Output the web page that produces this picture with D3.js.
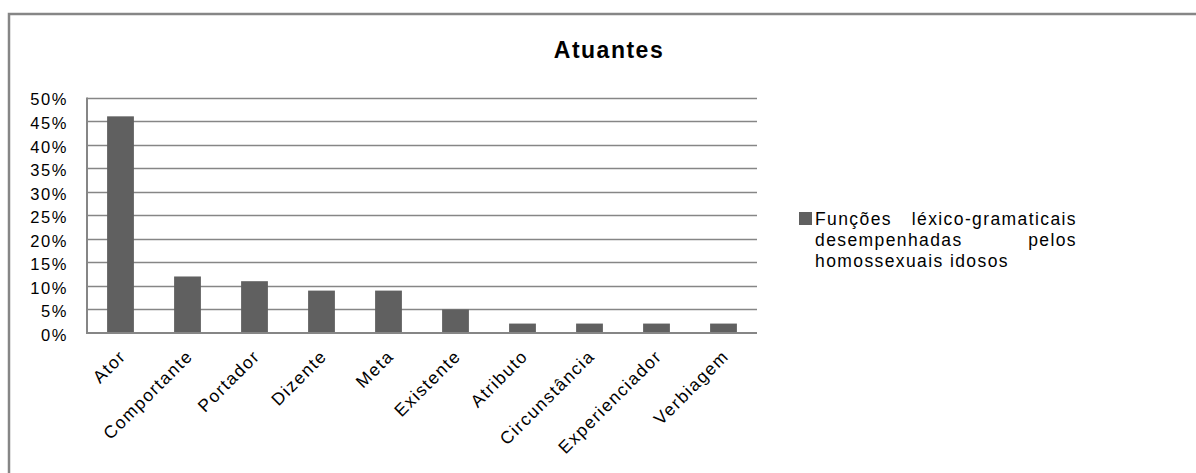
<!DOCTYPE html>
<html>
<head>
<meta charset="utf-8">
<script src="https://cdn.jsdelivr.net/npm/d3@7"></script>
<style>
  body { margin: 0; background: #fff; }
  svg { display: block; font-family: "Liberation Sans", Arial, sans-serif; }
</style>
</head>
<body>
<svg id="chart"></svg>
<script>
const width = 1196;
const height = 473;

// chart data
const categories = ["Ator", "Comportante", "Portador", "Dizente", "Meta", "Existente",
  "Atributo", "Circunstância", "Experienciador", "Verbiagem"];
const values = [0.46, 0.12, 0.11, 0.09, 0.09, 0.05, 0.02, 0.02, 0.02, 0.02];
const yTicks = [0, 0.05, 0.10, 0.15, 0.20, 0.25, 0.30, 0.35, 0.40, 0.45, 0.50];
const seriesName = "Funções léxico-gramaticais desempenhadas pelos homossexuais idosos";

const plot = { left: 87, top: 97.5, right: 757, bottom: 333 };

const svg = d3.select("#chart")
  .attr("width", width)
  .attr("height", height);

// outer chart frame (only top + left visible in the crop)
svg.append("path")
  .attr("d", `M9,${height} V14 H${width}`)
  .attr("fill", "none")
  .attr("stroke", "#868686")
  .attr("stroke-width", 2.5);

svg.append("text")
  .attr("x", 609)
  .attr("y", 58)
  .attr("text-anchor", "middle")
  .attr("font-weight", "bold")
  .attr("font-size", 23)
  .attr("letter-spacing", 1.5)
  .text("Atuantes");

const x = d3.scaleBand()
  .domain(categories)
  .range([plot.left, plot.right])
  .paddingInner(0.6)
  .paddingOuter(0.3);

const y = d3.scaleLinear()
  .domain([0, 0.5])
  .range([plot.bottom, plot.top]);

// gridlines
svg.append("g")
  .selectAll("line")
  .data(yTicks.filter(d => d > 0))
  .enter()
  .append("line")
  .attr("x1", plot.left)
  .attr("x2", plot.right)
  .attr("y1", d => Math.round(y(d)) + 0.5)
  .attr("y2", d => Math.round(y(d)) + 0.5)
  .attr("stroke", "#868686")
  .attr("stroke-width", 1.5);

// y axis labels
const yAxis = d3.axisLeft(y)
  .tickValues(yTicks)
  .tickFormat(d3.format(".0%"))
  .tickSize(0)
  .tickPadding(19);

svg.append("g")
  .attr("transform", `translate(${plot.left},0)`)
  .call(yAxis)
  .call(g => g.select(".domain").remove())
  .selectAll("text")
  .attr("font-size", 16.5)
  .attr("letter-spacing", 1.6)
  .attr("fill", "#000")
  .attr("font-family", "Liberation Sans, Arial, sans-serif")
  .attr("dy", "0.45em");

// bars
svg.append("g")
  .selectAll("rect")
  .data(values)
  .enter()
  .append("rect")
  .attr("x", (d, i) => x(categories[i]))
  .attr("width", x.bandwidth())
  .attr("y", d => y(d))
  .attr("height", d => y(0) - y(d))
  .attr("fill", "#606060");

// plot axes lines (left + bottom)
svg.append("path")
  .attr("d", `M${plot.left},${plot.top} V${plot.bottom} H${plot.right}`)
  .attr("fill", "none")
  .attr("stroke", "#868686")
  .attr("stroke-width", 2);

// x axis labels, rotated
const xAxis = d3.axisBottom(x).tickSize(0).tickPadding(0);

svg.append("g")
  .attr("transform", `translate(0,${plot.bottom})`)
  .call(xAxis)
  .call(g => g.select(".domain").remove())
  .selectAll("text")
  .attr("font-size", 17.5)
  .attr("letter-spacing", 1.5)
  .attr("fill", "#000")
  .attr("font-family", "Liberation Sans, Arial, sans-serif")
  .attr("text-anchor", "end")
  .attr("dy", "0.35em")
  .attr("transform", "translate(2,20) rotate(-45)");

// legend
const legend = svg.append("g");
legend.append("rect")
  .attr("x", 799)
  .attr("y", 212)
  .attr("width", 13)
  .attr("height", 13)
  .attr("fill", "#606060");

const words = seriesName.split(" ");
const lines = [
  [words[0], words[1]],
  [words[2], words[3]],
  [words.slice(4).join(" ")]
];
const legX0 = 815, legX1 = 1077, legY0 = 225, lh = 21;
lines.forEach((ln, i) => {
  legend.append("text")
    .attr("x", legX0)
    .attr("y", legY0 + i * lh)
    .attr("font-size", 17.5)
    .attr("letter-spacing", 1.4)
    .text(ln[0]);
  if (ln.length > 1) {
    legend.append("text")
      .attr("x", legX1)
      .attr("y", legY0 + i * lh)
      .attr("text-anchor", "end")
      .attr("font-size", 17.5)
      .attr("letter-spacing", 1.4)
      .text(ln[1]);
  }
});
</script>
</body>
</html>
